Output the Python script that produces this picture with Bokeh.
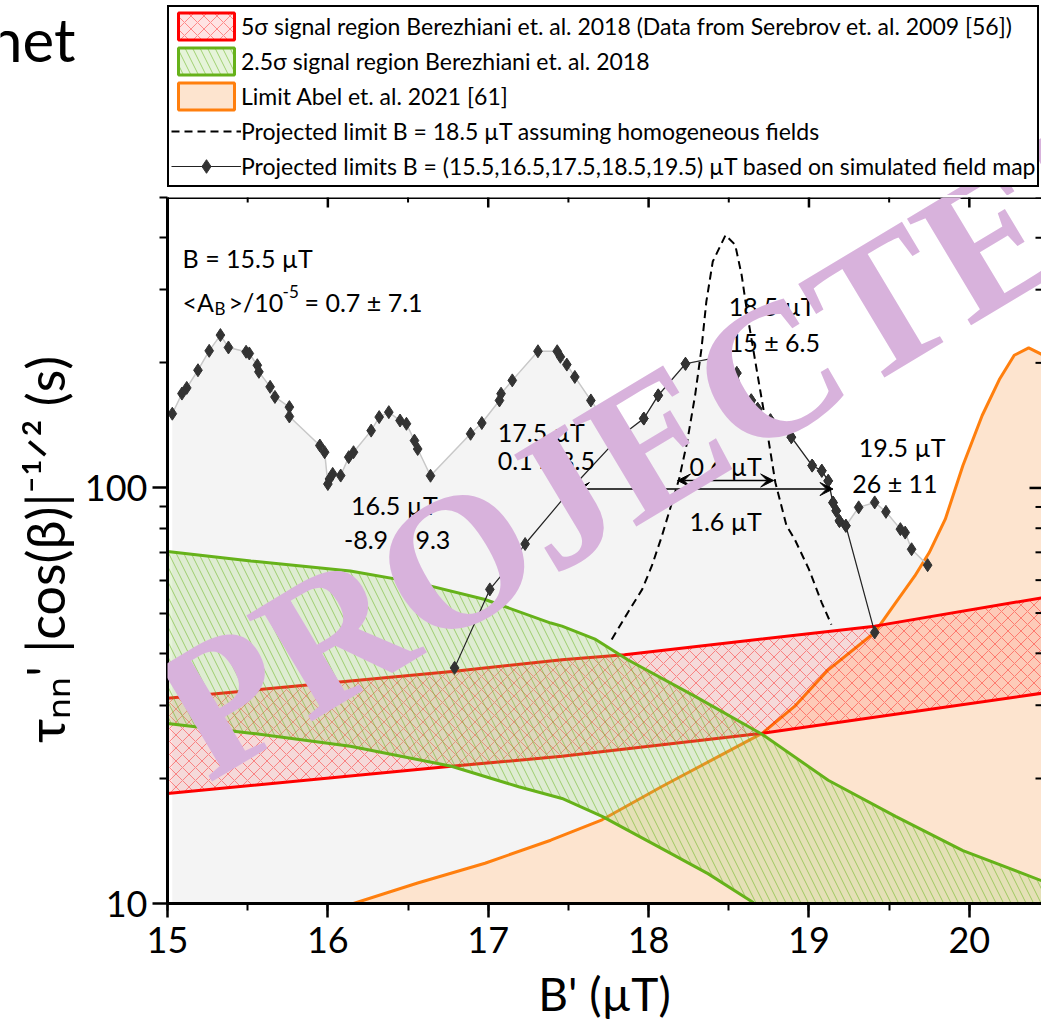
import math
from bokeh.plotting import figure
from bokeh.layouts import column
from bokeh.models import (Range1d, SingleIntervalTicker, FixedTicker, Legend, LegendItem, Label,
                          Arrow, VeeHead, PrintfTickFormatter, Span)
from bokeh.embed import file_html
from bokeh.resources import INLINE

FONT = "Lato"
AXFONT = "Liberation Sans Narrow, Lato"

# Envelope of the projected limits over all nominal fields (gray region)
env_x = [15.03, 15.09, 15.12, 15.19, 15.26, 15.33, 15.38, 15.49, 15.51, 15.56, 15.57, 15.64,
         15.67, 15.76, 15.76, 15.95, 15.98, 16.00, 16.01, 16.03, 16.08, 16.13, 16.16, 16.27,
         16.32, 16.38, 16.45, 16.49, 16.54, 16.56, 16.64, 16.89, 16.96, 17.07, 17.08, 17.15,
         17.31, 17.43, 17.45, 17.49, 17.54, 17.64, 17.81, 17.97, 18.06, 18.23, 18.44, 18.55,
         18.59, 18.64, 18.68, 18.76, 18.89, 19.02, 19.08, 19.12, 19.15, 19.17, 19.19, 19.23,
         19.31, 19.41, 19.48, 19.57, 19.60, 19.64, 19.74]
env_y = [150.9, 168.7, 174.1, 192.0, 213.8, 233.3, 217.8, 212.7, 210.7, 197.4, 190.3, 175.1,
         165.6, 156.5, 148.6, 126.5, 121.9, 102.2, 105.1, 108.1, 107.1, 118.6, 121.9, 137.4,
         148.1, 152.2, 145.3, 142.7, 130.0, 124.1, 107.0, 135.0, 143.3, 162.4, 168.6, 181.5,
         213.3, 213.3, 206.8, 198.1, 185.0, 162.4, 131.8, 146.9, 167.0, 199.0, 206.6, 189.0,
         165.6, 162.5, 155.0, 145.5, 132.5, 113.2, 110.0, 104.0, 92.2, 88.1, 83.3, 81.1,
         89.8, 92.3, 87.6, 79.6, 78.1, 71.2, 65.2]

# Projected limit for B = 18.5 uT from the simulated field map
b185_x = [16.79, 17.01, 17.10, 17.23, 17.55, 17.81, 17.97, 18.06, 18.23, 18.44, 18.55, 18.59,
          18.64, 18.68, 18.76, 18.89, 19.02, 19.08, 19.12, 19.15, 19.17, 19.19, 19.23, 19.41]
b185_y = [36.9, 57.0, 62.8, 73.3, 102.8, 131.8, 146.9, 167.0, 199.0, 206.6, 189.0, 165.6,
          162.5, 155.0, 145.5, 132.5, 113.2, 110.0, 104.0, 92.2, 88.1, 83.3, 81.1, 44.9]

# Projected limit B = 18.5 uT, homogeneous fields
homog_x = [17.77, 17.87, 17.96, 18.02, 18.08, 18.19, 18.24, 18.29, 18.33, 18.36, 18.40, 18.48,
           18.54, 18.58, 18.62, 18.68, 18.73, 18.79, 18.86, 18.91, 19.00, 19.08, 19.14]
homog_y = [43.2, 50.1, 57.0, 64.9, 76.0, 105.0, 128.8, 167.0, 216.7, 280.7, 350.6, 406.0,
           384.6, 325.6, 255.6, 186.6, 144.0, 103.2, 81.1, 75.4, 63.7, 52.9, 46.9]

# Limit Abel et al. 2021
abel_x = [16.16, 16.56, 16.98, 17.39, 17.71, 18.08, 18.39, 18.71, 18.91, 19.12, 19.41, 19.54,
          19.66, 19.75, 19.85, 19.96, 20.08, 20.19, 20.28, 20.37, 20.4625]
abel_y = [10.0, 11.2, 12.5, 14.2, 15.9, 19.1, 22.1, 25.7, 29.8, 36.5, 44.9, 52.9,
          61.4, 69.9, 84.1, 113.2, 149.4, 183.2, 208.6, 217.3, 208.6]

# 5 sigma signal region (upper / lower edge)
s5_hi_x = [15.0, 16.79, 17.46, 17.85, 19.41, 20.4625]
s5_hi_y = [31.2, 36.2, 38.6, 39.7, 46.5, 54.5]
s5_lo_x = [15.0, 16.77, 17.46, 18.71, 20.4625]
s5_lo_y = [18.4, 21.4, 22.6, 25.7, 32.1]

# 2.5 sigma signal region (upper / lower edge)
s25_hi_x = [15.0, 15.52, 16.14, 16.56, 16.98, 17.39, 17.46, 17.67, 17.87, 18.29, 18.71, 19.12,
            19.54, 19.96, 20.4625]
s25_hi_y = [70.3, 66.7, 63.1, 59.1, 53.9, 47.3, 46.5, 43.2, 38.6, 31.5, 25.5, 19.8,
            16.2, 13.4, 11.3]
s25_lo_x = [15.0, 15.52, 16.14, 16.77, 17.19, 17.46, 17.71, 18.06, 18.37, 18.65]
s25_lo_y = [27.1, 25.7, 23.9, 21.4, 19.1, 17.9, 16.2, 13.7, 11.8, 10.07]

# field-width arrows: centre, width, height
arrow_center = [18.48, 18.35]
arrow_width = [0.6, 1.6]
arrow_y = [104.2, 99.4]

# axis ticks
x_major = [15, 16, 17, 18, 19, 20]
x_minor = [15.5, 16.5, 17.5, 18.5, 19.5]
y_major = [10, 100]
y_minor = [20, 30, 40, 50, 60, 70, 80, 90, 200, 300, 400, 500]

X0, X1 = 15, 20.45
Y0, Y1 = 10, 500
FLOOR = 1.0  # closes filled areas below the visible axis range

RED_STYLE = dict(fill_color="red", fill_alpha=0.11, hatch_pattern="x", hatch_color="red",
                 hatch_alpha=0.4, hatch_scale=13, hatch_weight=1, line_color="red", line_width=3)
GREEN_STYLE = dict(fill_color="#9BD56A", fill_alpha=0.25, hatch_pattern="\\", hatch_color="#66B21A",
                   hatch_alpha=0.55, hatch_scale=15, hatch_weight=1, line_color="#66B21A", line_width=3)
ORANGE_STYLE = dict(fill_color="#FDE4CF", line_color="#FF7F0E", line_width=3)
DASH_STYLE = dict(line_color="black", line_width=2, line_dash="8 5")
MARK_STYLE = dict(marker="diamond", size=13, fill_color="#333333", line_color="#333333")
WM = dict(text="PROJECTED", text_font="Liberation Serif", text_font_style="bold",
          text_font_size="190px", text_color="#D8B2DC", text_align="center",
          text_baseline="middle", angle=31, angle_units="deg", level="overlay")


def bare(fig):
    fig.grid.visible = False
    fig.outline_line_color = None
    fig.background_fill_color = "white"
    fig.border_fill_color = "white"
    if "frame_align" in fig.properties():
        fig.frame_align = False


def note(fig, x, y, text, size=25, align="left", dx=0, dy=0, angle=0, font=FONT):
    fig.add_layout(Label(x=x, y=y, text=text, x_offset=dx, y_offset=dy, text_font=font,
                         text_font_size=f"{size}px", text_color="black", text_align=align,
                         text_baseline="alphabetic", angle=angle, angle_units="deg"))


# ---------------- main chart ----------------
p = figure(width=1041, height=834, x_range=Range1d(X0, X1), y_range=Range1d(Y0, Y1),
           y_axis_type="log", output_backend="svg", toolbar_location=None,
           min_border_left=167, min_border_right=0, min_border_top=2, min_border_bottom=126)
bare(p)

p.varea(x=env_x, y1=FLOOR, y2=env_y, fill_color="#F4F4F4")
p.patch(x=abel_x + [abel_x[-1], abel_x[0]], y=abel_y + [FLOOR, FLOOR], **ORANGE_STYLE)
p.patch(x=s5_hi_x + s5_lo_x[::-1], y=s5_hi_y + s5_lo_y[::-1], **RED_STYLE)
p.patch(x=s25_hi_x + [s25_hi_x[-1]] + s25_lo_x[::-1],
        y=s25_hi_y + [FLOOR] + s25_lo_y[::-1], **GREEN_STYLE)

p.line(env_x, env_y, line_color="#C8C8C8", line_width=1.5)
p.scatter(env_x, env_y, **MARK_STYLE)
p.line(b185_x, b185_y, line_color="#222222", line_width=1.2)
p.scatter(b185_x, b185_y, **MARK_STYLE)
p.line(homog_x, homog_y, **DASH_STYLE)

for c, w, yv in zip(arrow_center, arrow_width, arrow_y):
    p.add_layout(Arrow(start=VeeHead(size=13, fill_color="black", line_color="black"),
                       end=VeeHead(size=13, fill_color="black", line_color="black"),
                       x_start=c - w / 2, y_start=yv, x_end=c + w / 2, y_end=yv,
                       line_color="black", line_width=1.5))

# inward ticks on the top and right frame edges (half of each dash is clipped)
p.scatter(x=x_major, y=[Y1] * len(x_major), marker="dash", angle=math.pi / 2, size=20,
          line_color="black", line_width=2.5)
p.scatter(x=x_minor, y=[Y1] * len(x_minor), marker="dash", angle=math.pi / 2, size=10,
          line_color="black", line_width=2)
p.scatter(x=[X1] * len(y_major), y=y_major, marker="dash", size=24,
          line_color="black", line_width=2.5)
p.scatter(x=[X1] * len(y_minor), y=y_minor, marker="dash", size=12,
          line_color="black", line_width=2)
p.add_layout(Span(location=Y1, dimension="width", line_color="black", line_width=3))

xa = p.xaxis[0]
xa.ticker = SingleIntervalTicker(interval=1, num_minor_ticks=2)
xa.axis_label = "B' (µT)"
ya = p.yaxis[0]
ya.ticker = FixedTicker(ticks=y_major, minor_ticks=y_minor)
ya.formatter = PrintfTickFormatter(format="%d")
ya.axis_label = "τₙₙ' |cos(β)|⁻¹ᐟ² (s)"
for ax in (xa, ya):
    ax.axis_line_width = 3
    ax.major_tick_line_width = 2.5
    ax.minor_tick_line_width = 2
    ax.major_tick_in = 0
    ax.minor_tick_in = 0
    ax.major_label_text_font = AXFONT
    ax.major_label_text_font_size = "36px"
    ax.major_label_text_color = "black"
    ax.axis_label_text_font_style = "normal"
    ax.axis_label_text_color = "black"
xa.axis_label_text_font = AXFONT
xa.axis_label_text_font_size = "46px"
ya.axis_label_text_font = FONT
ya.axis_label_text_font_size = "52px"
xa.major_tick_out = 14
xa.minor_tick_out = 7
xa.major_label_standoff = 9
xa.axis_label_standoff = 10
ya.major_tick_out = 15
ya.minor_tick_out = 8
ya.major_label_standoff = 5
ya.axis_label_standoff = 6

# field annotations
note(p, 15.094, 357, "B = 15.5 µT")
note(p, 15.094, 280, "<A")
note(p, 15.094, 280, "B", size=17, dx=32, dy=-6)
note(p, 15.094, 280, ">/10", dx=46)
note(p, 15.094, 280, "-5", size=17, dx=100, dy=11)
note(p, 15.094, 280, "= 0.7 ± 7.1", dx=122)
note(p, 16.144, 91.0, "16.5 µT")
note(p, 16.10, 75.4, "-8.9 ± 9.3")
note(p, 17.06, 136.5, "17.5 µT")
note(p, 17.06, 116.8, "0.1 ± 8.5")
note(p, 18.50, 273.5, "18.5 µT")
note(p, 18.50, 225.0, "15 ± 6.5")
note(p, 19.31, 125.6, "19.5 µT")
note(p, 19.27, 102.8, "26 ± 11")
note(p, 18.48, 113.0, "0.6 µT", align="center")
note(p, 18.48, 83.2, "1.6 µT", align="center")

# watermark centre: B' = 18.12 uT, 136 s
p.add_layout(Label(x=18.124, y=136.0, **WM))

# ---------------- legend strip (page pixel coordinates) ----------------
lf = figure(width=1041, height=195, x_range=Range1d(0, 1041), y_range=Range1d(195, 0),
            x_axis_location=None, y_axis_location=None, output_backend="svg",
            toolbar_location=None, min_border=0)
bare(lf)

# legend keys share the styles of the chart series (hidden, only their keys are shown)
k_red = lf.patch(x=s5_hi_x + s5_lo_x[::-1], y=s5_hi_y + s5_lo_y[::-1], **RED_STYLE)
k_green = lf.patch(x=s25_hi_x, y=s25_hi_y, **GREEN_STYLE)
k_orange = lf.patch(x=abel_x, y=abel_y, **ORANGE_STYLE)
k_dash = lf.line(x=homog_x, y=homog_y, **DASH_STYLE)
k_line = lf.line(x=b185_x, y=b185_y, line_color="#222222", line_width=1.2)
k_mark = lf.scatter(x=b185_x, y=b185_y, **MARK_STYLE)
for r in (k_red, k_green, k_orange, k_dash, k_line, k_mark):
    r.visible = False

legend = Legend(items=[
    LegendItem(label="5σ signal region Berezhiani et. al. 2018 (Data from Serebrov et. al. 2009 [56])", renderers=[k_red]),
    LegendItem(label="2.5σ signal region Berezhiani et. al. 2018", renderers=[k_green]),
    LegendItem(label="Limit Abel et. al. 2021 [61]", renderers=[k_orange]),
    LegendItem(label="Projected limit B = 18.5 µT assuming homogeneous fields", renderers=[k_dash]),
    LegendItem(label="Projected limits B = (15.5,16.5,17.5,18.5,19.5) µT based on simulated field map",
               renderers=[k_line, k_mark]),
], location=(167, 8), orientation="vertical", glyph_width=70, glyph_height=34,
    label_standoff=0, spacing=1, padding=2, margin=0,
    border_line_color="black", border_line_width=2, border_line_alpha=1,
    background_fill_color="white", background_fill_alpha=1,
    inactive_fill_alpha=0,
    label_text_font=FONT, label_text_font_size="23px", label_text_color="black")
lf.add_layout(legend, "center")

note(lf, 75, 38, "net", size=60, align="right")
# same watermark, continued above the chart (page pixels: 18.12 uT -> x 668, 136 s -> y 432)
lf.add_layout(Label(x=668, y=432, **WM))

layout = column(lf, p, spacing=0)
open("out.html", "w").write(file_html(layout, INLINE))
